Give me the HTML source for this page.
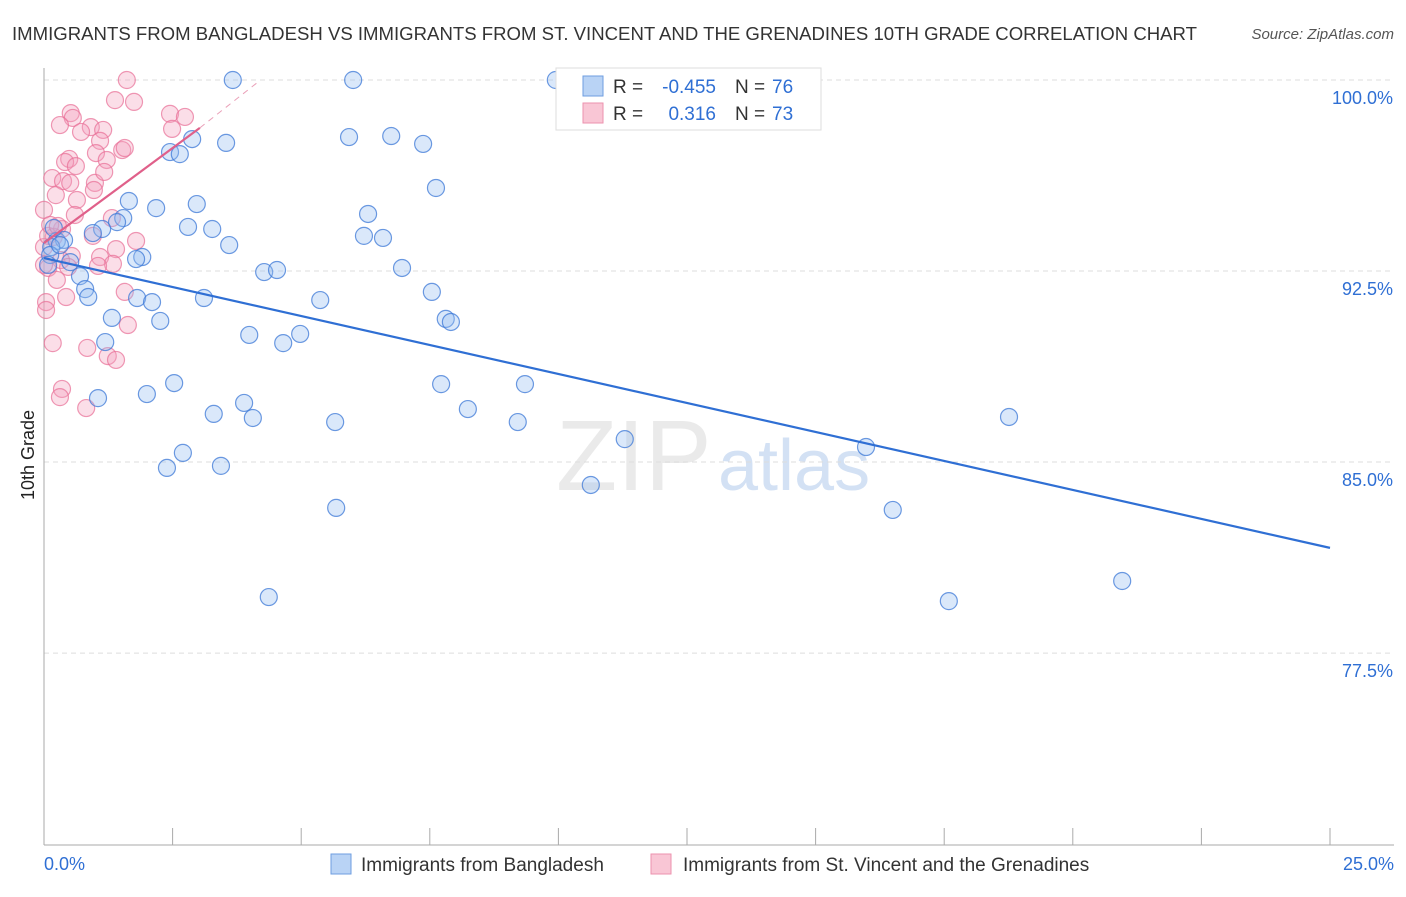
<!DOCTYPE html>
<html><head><meta charset="utf-8"><style>
body{margin:0;background:#fff;font-family:"Liberation Sans",sans-serif;}
svg text{font-family:"Liberation Sans",sans-serif;}
</style></head><body>
<svg id="c" width="1406" height="892" xmlns="http://www.w3.org/2000/svg">
<text x="12" y="40" font-size="18" fill="#333" textLength="1185" lengthAdjust="spacingAndGlyphs">IMMIGRANTS FROM BANGLADESH VS IMMIGRANTS FROM ST. VINCENT AND THE GRENADINES 10TH GRADE CORRELATION CHART</text>
<text x="1394" y="39" font-size="15" fill="#555" text-anchor="end" font-style="italic">Source: ZipAtlas.com</text>
<text x="34" y="455" font-size="18" fill="#222" text-anchor="middle" transform="rotate(-90 34 455)">10th Grade</text>
<text x="556" y="490" font-size="100" fill="#ccc" opacity="0.4" font-family="Liberation Serif">ZIP</text>
<text x="718" y="490" font-size="72" fill="#a9c4ea" opacity="0.5">atlas</text>
<g id="grid"></g><g id="axes"></g><g id="pts"></g><g id="lines"></g>
<g>
<rect x="556" y="68" width="265" height="62" fill="#fff" stroke="#ddd"/>
<rect x="583" y="76" width="20" height="20" fill="#b9d3f5" stroke="#6e9ee0"/>
<rect x="583" y="103" width="20" height="20" fill="#f9c6d5" stroke="#ec92ae"/>
<text x="613" y="93" font-size="19" fill="#333">R =</text>
<text x="716" y="93" font-size="19" fill="#2f6fd4" text-anchor="end">-0.455</text>
<text x="735" y="93" font-size="19" fill="#333">N =</text>
<text x="772" y="93" font-size="19" fill="#2f6fd4">76</text>
<text x="613" y="120" font-size="19" fill="#333">R =</text>
<text x="716" y="120" font-size="19" fill="#2f6fd4" text-anchor="end">0.316</text>
<text x="735" y="120" font-size="19" fill="#333">N =</text>
<text x="772" y="120" font-size="19" fill="#2f6fd4">73</text>
</g>
<g>
<rect x="331" y="854" width="20" height="20" fill="#b9d3f5" stroke="#6e9ee0"/>
<text x="361" y="871" font-size="19" fill="#333">Immigrants from Bangladesh</text>
<rect x="651" y="854" width="20" height="20" fill="#f9c6d5" stroke="#ec92ae"/>
<text x="683" y="871" font-size="19" fill="#333">Immigrants from St. Vincent and the Grenadines</text>
</g>
</svg>
<script>
const blueX=[3.67,6.01,9.95,2.88,3.54,5.93,6.75,7.37,2.45,2.64,7.62,1.65,2.18,2.97,1.54,1.42,6.30,2.80,3.27,1.13,0.95,6.22,6.59,3.60,0.25,0.39,0.14,1.91,1.79,4.28,4.53,6.96,0.70,0.80,0.86,1.81,2.10,3.11,5.37,7.54,2.26,1.32,3.99,4.98,4.65,7.81,7.91,1.19,2.53,7.72,9.35,2.00,1.05,3.89,3.30,4.06,8.24,5.66,9.21,11.29,2.70,2.39,3.44,10.63,5.68,15.98,18.76,16.50,4.37,17.59,20.96,0.19,0.12,0.31,0.51,0.08];
const blueY=[100.0,100.0,100.0,97.68,97.53,97.76,97.80,97.49,97.17,97.09,95.76,95.25,94.97,95.13,94.58,94.42,94.74,94.23,94.15,94.15,93.99,93.88,93.80,93.52,93.68,93.72,93.44,93.05,92.97,92.46,92.54,92.62,92.30,91.79,91.48,91.44,91.28,91.44,91.36,91.68,90.54,90.66,89.99,90.03,89.67,90.62,90.50,89.71,88.10,88.06,88.06,87.67,87.51,87.32,86.89,86.73,87.08,86.57,86.57,85.90,85.36,84.77,84.85,84.10,83.20,85.59,86.77,83.12,79.70,79.54,80.33,94.19,93.13,93.52,92.85,92.74];
const pinkX=[1.61,1.38,1.75,0.52,0.56,2.45,2.74,0.31,0.91,0.72,1.15,2.49,1.09,1.01,1.52,1.57,0.49,0.41,1.22,0.62,0.16,0.37,0.51,0.99,0.97,1.17,0.23,0.64,0,0.60,1.32,0.95,0.35,0.19,1.79,1.40,0,0.54,1.09,0.33,0.08,1.34,0.47,0.25,1.05,0.43,1.57,0.04,0.04,1.63,0.17,0.84,1.24,1.40,0.35,0.31,0.82,0.08,0.12,0.27,0];
const pinkY=[100.0,99.21,99.14,98.70,98.51,98.67,98.55,98.23,98.15,97.96,98.04,98.08,97.61,97.13,97.25,97.33,96.90,96.78,96.86,96.62,96.15,96.03,95.96,95.96,95.68,96.39,95.48,95.29,94.90,94.70,94.58,93.88,94.15,93.84,93.68,93.36,93.44,93.09,93.05,92.93,92.62,92.78,92.66,92.15,92.70,91.48,91.68,91.28,90.97,90.38,89.67,89.48,89.16,89.01,87.87,87.55,87.12,93.88,94.31,94.27,92.74];
const yTicks=[100,92.5,85,77.5];
const yTickLabels=["100.0%","92.5%","85.0%","77.5%"];
const xTicks=[0,2.5,5,7.5,10,12.5,15,17.5,20,22.5,25];
const blueTrend=[[0,93.01],[25,81.63]];
const pinkTrend=[[0,93.6],[3.03,98.12]];
const pinkDash=[[3.03,98.12],[4.16,99.92]];
const NS="http://www.w3.org/2000/svg";
const sx=v=>44+v*51.44, sy=v=>80+(100-v)*25.47;
function mk(tag,attrs,parent){const e=document.createElementNS(NS,tag);for(const k in attrs)e.setAttribute(k,attrs[k]);document.getElementById(parent).appendChild(e);return e;}
yTicks.forEach((t,i)=>{
 let l=mk('line',{x1:44,x2:1394,y1:sy(t),y2:sy(t),stroke:'#ddd','stroke-dasharray':'5,4'},'grid');
 
 
 let tx=mk('text',{x:1393,y:sy(t)+24,'font-size':18,fill:'#2f6fd4','text-anchor':'end'},'grid');
 tx.textContent=yTickLabels[i];
 
 
});
let ya=mk('line',{x1:44,x2:44,y1:68,y2:845,stroke:'#aaa'},'axes');


let xa=mk('line',{x1:44,x2:1394,y1:845,y2:845,stroke:'#aaa'},'axes');


xTicks.forEach(t=>{let l=mk('line',{x1:sx(t),x2:sx(t),y1:828,y2:845,stroke:'#aaa'},'axes');
 
 });
let x0=mk('text',{x:44,y:870,'font-size':18,fill:'#2f6fd4'},'axes');x0.textContent='0.0%';


let x1=mk('text',{x:1394,y:870,'font-size':18,fill:'#2f6fd4','text-anchor':'end'},'axes');x1.textContent='25.0%';


pinkX.forEach((x,i)=>{let c=mk('circle',{cx:sx(x),cy:sy(pinkY[i]),r:8.5,fill:'rgba(244,160,188,0.35)',stroke:'rgba(232,110,150,0.7)','stroke-width':1.2},'pts');
 
 });
blueX.forEach((x,i)=>{let c=mk('circle',{cx:sx(x),cy:sy(blueY[i]),r:8.5,fill:'rgba(150,190,240,0.35)',stroke:'rgba(60,120,215,0.75)','stroke-width':1.2},'pts');
 
 });
let bl=mk('line',{x1:sx(blueTrend[0][0]),y1:sy(blueTrend[0][1]),x2:sx(blueTrend[1][0]),y2:sy(blueTrend[1][1]),stroke:'#2f6fd4','stroke-width':2.2},'lines');


let pl=mk('line',{x1:sx(pinkTrend[0][0]),y1:sy(pinkTrend[0][1]),x2:sx(pinkTrend[1][0]),y2:sy(pinkTrend[1][1]),stroke:'#e0608a','stroke-width':2.2},'lines');


let pd=mk('line',{x1:sx(pinkDash[0][0]),y1:sy(pinkDash[0][1]),x2:sx(pinkDash[1][0]),y2:sy(pinkDash[1][1]),stroke:'#eaa0b8','stroke-width':1,'stroke-dasharray':'6,5'},'lines');


</script>
</body></html>
